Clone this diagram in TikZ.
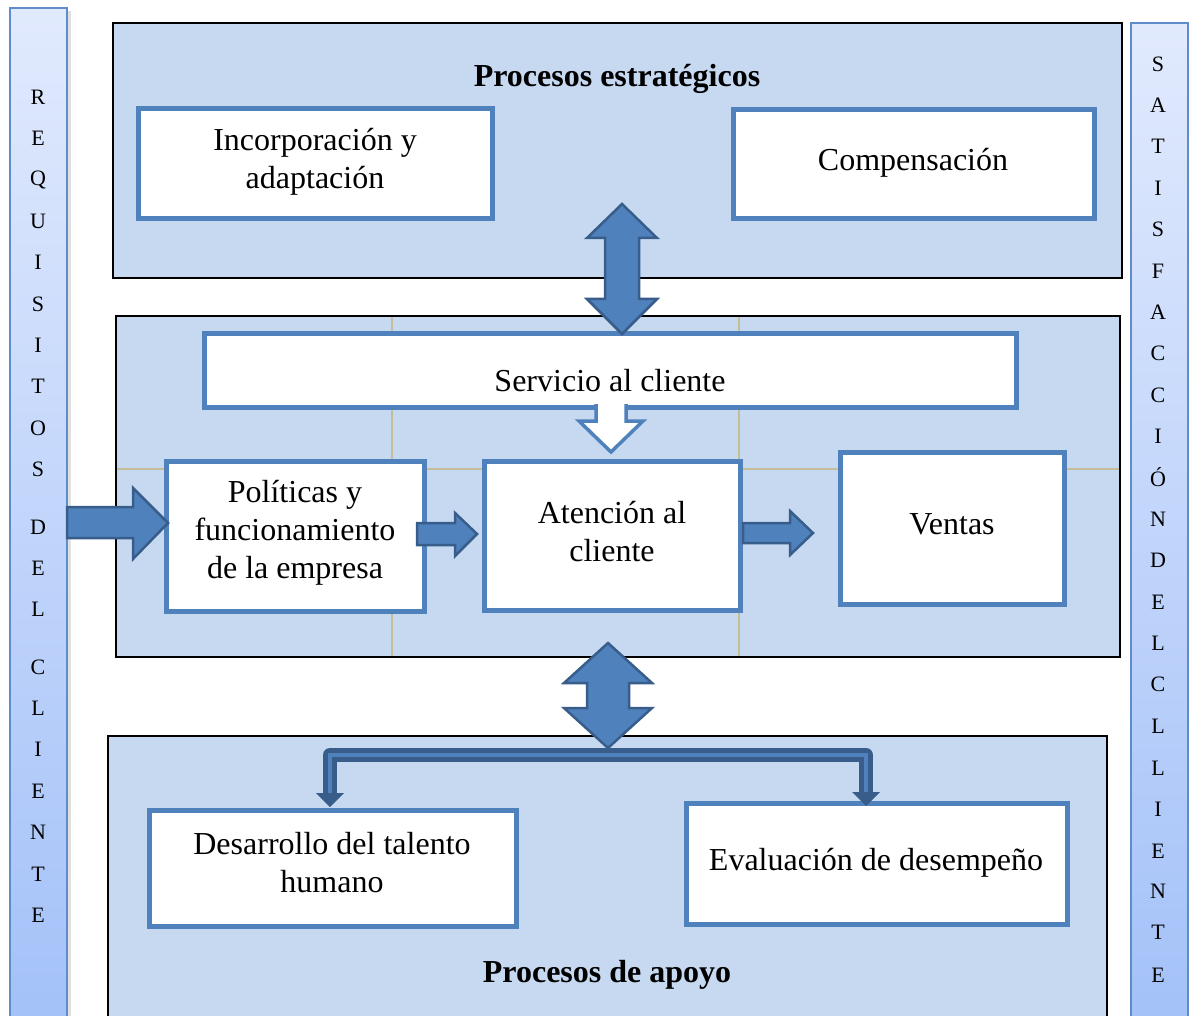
\documentclass[tikz,border=0pt]{standalone}
\usepackage{fontspec}
\setmainfont{Liberation Serif}
\definecolor{panel}{HTML}{C6D9F1}
\definecolor{boxblue}{HTML}{4F81BD}
\definecolor{arrowdark}{HTML}{385D8A}
\definecolor{gridtan}{HTML}{C4BD97}
\definecolor{bartop}{HTML}{E1EAFD}
\definecolor{barbot}{HTML}{A3C1F8}
\definecolor{barline}{HTML}{5F8DCB}
\tikzset{
  panelbox/.style={fill=panel, draw=black, line width=2},
  wbox/.style={draw=boxblue, fill=white, line width=5, inner sep=0, rectangle},
  txt/.style={inner sep=0, align=center, font=\fontsize{32}{38}\selectfont},
  ttl/.style={inner sep=0, align=center, font=\fontsize{32}{38}\selectfont\bfseries},
  barletter/.style={inner sep=0, font=\fontsize{22}{26}\selectfont},
  blockarrow/.style={fill=boxblue, draw=arrowdark, line width=2.5, line join=miter},
  gridline/.style={draw=gridtan, line width=1.5},
}
\begin{document}
\begin{tikzpicture}[x=1pt, y=-1pt]
\useasboundingbox (0,0) rectangle (1189,1016);
\clip (0,0) rectangle (1189,1016);
\fill[white] (0,0) rectangle (1189,1016);

% side bars
\fill[black, opacity=0.12] (13,11) rectangle (71,1030);
\shade[top color=bartop, bottom color=barbot] (10,8) rectangle (67,1030);
\draw[barline, line width=2] (10,8) rectangle (67,1030);
\fill[black, opacity=0.12] (1134,26) rectangle (1192,1030);
\shade[top color=bartop, bottom color=barbot] (1131,23) rectangle (1188,1030);
\draw[barline, line width=2] (1131,23) rectangle (1188,1030);

\foreach \ch/\yy [count=\i] in {R/97,E/138,Q/180,U/221,I/262,S/304,I/345,T/386,O/428,S/469,D/527,E/568,L/609,C/667,L/708,I/749,E/791,N/832,T/874,E/915}
  \node[barletter] (l\i) at (38,\yy) {\ch};
\foreach \ch/\yy [count=\i] in {S/64,A/105,T/146,I/188,S/229,F/271,A/312,C/353,C/395,I/436,Ó/477,N/519,D/560,E/602,L/643,C/684,L/726,L/768,I/809,E/851,N/891,T/932,E/975}
  \node[barletter] (r\i) at (1158,\yy) {\ch};

% panels
\draw[panelbox] (113,23) rectangle (1122,278);
\draw[panelbox] (116,316) rectangle (1120,657);
\draw[panelbox] (108,736) rectangle (1107,1040);

% table grid inside middle panel
\draw[gridline] (392,317) -- (392,656);
\draw[gridline] (739,317) -- (739,656);
\draw[gridline] (117,469) -- (1119,469);

% boxes
\node[wbox, minimum width=354, minimum height=110] (inc) at (315,164) {};
\node[wbox, minimum width=361, minimum height=109] (com) at (913.5,164.5) {};
\node[wbox, minimum width=812, minimum height=73] (ser) at (610,370.5) {};
\node[wbox, minimum width=258, minimum height=150] (pol) at (295,536) {};
\node[wbox, minimum width=256, minimum height=149] (ate) at (612,535.5) {};
\node[wbox, minimum width=224, minimum height=152] (ven) at (952,528) {};
\node[wbox, minimum width=367, minimum height=116] (des) at (332.5,868) {};
\node[wbox, minimum width=381, minimum height=121] (eva) at (876.5,863.5) {};

% white down arrow from Servicio al cliente
\draw[draw=boxblue, fill=white, line width=3.5, line join=miter]
  (596,404) -- (596,421) -- (579,421) -- (611,452) -- (643,421) -- (626,421) -- (626,404);

% texts
\node[ttl] (t1) at (617,79) {Procesos estratégicos};
\node[txt] (tinc) at (315,162) {Incorporación y\\adaptación};
\node[txt] (tcom) at (913,163) {Compensación};
\node[txt] (tser) at (610,381) {Servicio al cliente};
\node[txt] (tpol) at (295,533) {Políticas y\\funcionamiento\\de la empresa};
\node[txt] (tate) at (612,532) {Atención al\\cliente};
\node[txt] (tven) at (952,524) {Ventas};
\node[txt] (tdes) at (332,863) {Desarrollo del talento\\humano};
\node[txt] (teva) at (876,863) {Evaluación de desempeño};
\node[ttl] (t2) at (607,975) {Procesos de apoyo};

% block arrows
\draw[blockarrow] (622,204) -- (657,238) -- (639,238) -- (639,299) -- (657,299) -- (622,334)
  -- (587,299) -- (605,299) -- (605,238) -- (587,238) -- cycle;
\draw[blockarrow] (67,507) -- (133,507) -- (133,488) -- (168,523) -- (133,559) -- (133,538) -- (67,538) -- cycle;
\draw[blockarrow] (417,523) -- (455,523) -- (455,513) -- (477,534) -- (455,556) -- (455,545) -- (417,545) -- cycle;
\draw[blockarrow] (743,523) -- (790,523) -- (790,511) -- (813,533) -- (790,555) -- (790,543) -- (743,543) -- cycle;

% bracket connector to bottom boxes
\draw[line width=14, arrowdark, line join=round] (330,794) -- (330,755) -- (866,755) -- (866,794);
\draw[line width=4, boxblue] (330,794) -- (330,755) -- (866,755) -- (866,794);
\fill[arrowdark] (316,793) -- (344,793) -- (330,807) -- cycle;
\fill[arrowdark] (852,792) -- (880,792) -- (866,806) -- cycle;

\draw[blockarrow] (608,643) -- (652,683) -- (629,683) -- (629,708) -- (652,708) -- (608,748)
  -- (564,708) -- (587,708) -- (587,683) -- (564,683) -- cycle;
\end{tikzpicture}
\end{document}
